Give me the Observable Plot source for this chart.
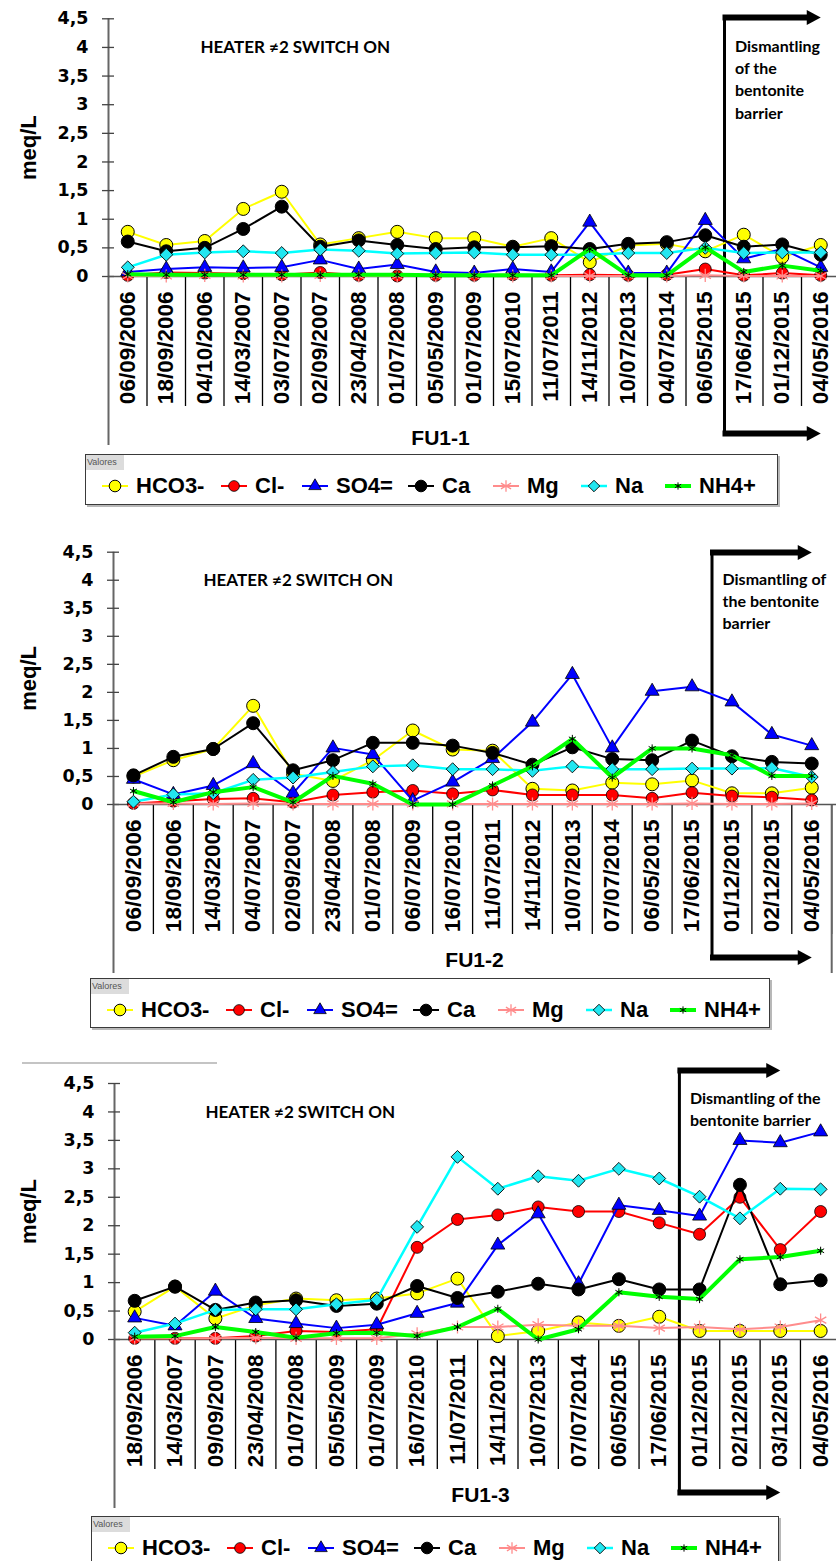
<!DOCTYPE html>
<html><head><meta charset="utf-8">
<script src="https://cdn.jsdelivr.net/npm/d3@7"></script>
<script src="https://cdn.jsdelivr.net/npm/@observablehq/plot@0.6"></script>
<style>
html,body{margin:0;padding:0;background:#fff;}
#root{position:relative;width:836px;height:1561px;overflow:hidden;background:#fff;}
.panel{position:absolute;left:0;}
.legend{position:absolute;box-sizing:border-box;border:1.5px solid #3a3a3a;background:#fff;box-shadow:2px 2px 0 #b8b8b8;}
.legend .tag{position:absolute;left:0;top:0;width:37px;height:15px;background:#dcdcdc;color:#555;font:9px "Liberation Sans Narrow","Liberation Sans",Arial,sans-serif;line-height:15px;padding-left:1px;}
.legend .sw{position:absolute;}
.legend .lbl{position:absolute;font:bold 22px "Liberation Sans",Arial,sans-serif;color:#000;white-space:nowrap;line-height:26px;}
.grey{position:absolute;height:2px;background:#c4c4c4;}
</style></head><body><div id="root"></div>
<script>
// ---------- data ----------
const seriesNames = ["HCO3-","Cl-","SO4=","Ca","Mg","Na","NH4+"];
const yTicks = [0,0.5,1,1.5,2,2.5,3,3.5,4,4.5];
const yLabel = "meq/L";
const heaterLabel = "HEATER \u22602 SWITCH ON";

const fu11Dates = ["06/09/2006","18/09/2006","04/10/2006","14/03/2007","03/07/2007","02/09/2007","23/04/2008","01/07/2008","05/05/2009","01/07/2009","15/07/2010","11/07/2011","14/11/2012","10/07/2013","04/07/2014","06/05/2015","17/06/2015","01/12/2015","04/05/2016"];
const fu11HCO3 = [0.78,0.55,0.62,1.18,1.48,0.56,0.67,0.78,0.67,0.67,0.52,0.67,0.25,0.54,0.57,0.44,0.73,0.34,0.55];
const fu11Cl   = [0.02,0.07,0.06,0.05,0.03,0.07,0.02,0.01,0.02,0.02,0.03,0.02,0.03,0.02,0.03,0.13,0.02,0.06,0.02];
const fu11SO4  = [0.08,0.13,0.16,0.15,0.16,0.29,0.13,0.21,0.08,0.06,0.13,0.08,0.95,0.06,0.06,0.98,0.31,0.48,0.16];
const fu11Ca   = [0.61,0.44,0.50,0.83,1.22,0.52,0.63,0.55,0.48,0.51,0.51,0.53,0.48,0.57,0.60,0.72,0.52,0.56,0.38];
const fu11Mg   = [0.01,0.01,0.02,0.01,0.01,0.02,0.01,0.01,0.01,0.01,0.01,0.01,0.01,0.01,0.01,0.02,0.01,0.01,0.01];
const fu11Na   = [0.16,0.38,0.42,0.44,0.41,0.47,0.45,0.40,0.41,0.42,0.38,0.38,0.38,0.41,0.41,0.50,0.41,0.42,0.42];
const fu11NH4  = [0.04,0.03,0.03,0.03,0.03,0.03,0.03,0.03,0.02,0.02,0.02,0.02,0.48,0.02,0.02,0.51,0.08,0.19,0.10];

const fu12Dates = ["06/09/2006","18/09/2006","14/03/2007","04/07/2007","02/09/2007","23/04/2008","01/07/2008","06/07/2009","16/07/2010","11/07/2011","14/11/2012","10/07/2013","07/07/2014","06/05/2015","17/06/2015","01/12/2015","02/12/2015","04/05/2016"];
const fu12HCO3 = [0.50,0.79,0.99,1.76,0.55,0.42,0.79,1.32,0.98,0.96,0.28,0.25,0.39,0.36,0.43,0.20,0.20,0.30];
const fu12Cl   = [0.02,0.06,0.10,0.11,0.04,0.17,0.22,0.25,0.19,0.26,0.17,0.17,0.17,0.11,0.21,0.15,0.13,0.08];
const fu12SO4  = [0.45,0.18,0.34,0.73,0.20,1.01,0.89,0.07,0.40,0.82,1.47,2.32,1.01,2.02,2.10,1.83,1.25,1.05];
const fu12Ca   = [0.52,0.85,0.99,1.45,0.61,0.79,1.10,1.10,1.05,0.92,0.71,1.02,0.81,0.79,1.14,0.86,0.76,0.73];
const fu12Mg   = [0.02,0.02,0.01,0.02,0.01,0.01,0.01,0.01,0.01,0.01,0.01,0.01,0.01,0.01,0.02,0.01,0.01,0.02];
const fu12Na   = [0.05,0.18,0.20,0.44,0.48,0.58,0.68,0.70,0.63,0.63,0.60,0.68,0.63,0.63,0.64,0.64,0.65,0.49];
const fu12NH4  = [0.24,0.04,0.22,0.31,0.04,0.51,0.37,0.00,0.00,0.34,0.68,1.17,0.48,1.00,1.00,0.88,0.51,0.51];

const fu13Dates = ["18/09/2006","14/03/2007","09/09/2007","23/04/2008","01/07/2008","05/05/2009","01/07/2009","16/07/2010","11/07/2011","14/11/2012","10/07/2013","07/07/2014","06/05/2015","17/06/2015","01/12/2015","02/12/2015","03/12/2015","04/05/2016"];
const fu13HCO3 = [0.49,0.93,0.37,0.60,0.72,0.69,0.72,0.81,1.07,0.06,0.15,0.30,0.24,0.40,0.15,0.15,0.15,0.15];
const fu13Cl   = [0.02,0.02,0.02,0.06,0.15,0.13,0.18,1.62,2.11,2.19,2.33,2.25,2.25,2.05,1.85,2.50,1.58,2.25];
const fu13SO4  = [0.38,0.24,0.85,0.37,0.28,0.20,0.26,0.46,0.64,1.66,2.21,0.98,2.36,2.27,2.17,3.50,3.46,3.65];
const fu13Ca   = [0.68,0.93,0.52,0.65,0.69,0.59,0.63,0.94,0.73,0.84,0.98,0.88,1.06,0.88,0.88,2.72,0.97,1.04];
const fu13Mg   = [0.02,0.02,0.02,0.03,0.02,0.02,0.02,0.10,0.22,0.22,0.26,0.24,0.24,0.20,0.22,0.18,0.22,0.34];
const fu13Na   = [0.12,0.28,0.52,0.53,0.53,0.62,0.70,1.98,3.21,2.65,2.87,2.79,3.00,2.83,2.51,2.13,2.65,2.64];
const fu13NH4  = [0.05,0.06,0.22,0.13,0.03,0.11,0.12,0.06,0.22,0.54,0.00,0.18,0.83,0.75,0.71,1.41,1.45,1.56];

// ---------- styles ----------
const seriesStyles = [
  {line:"#ffff00", w:2,   sym:d3.symbolCircle,   r:6.5, fill:"#ffff00", stroke:"#000", sw:1},
  {line:"#ff0000", w:2,   sym:d3.symbolCircle,   r:6,   fill:"#ff0000", stroke:"#000", sw:0.8},
  {line:"#0000ff", w:2,   sym:d3.symbolTriangle, r:5.2, fill:"#0000ff", stroke:"#000", sw:0.8},
  {line:"#000000", w:2,   sym:d3.symbolCircle,   r:6.5, fill:"#000000", stroke:"#000", sw:1},
  {line:"#ff8c8c", w:2,   sym:d3.symbolAsterisk, r:6.2, fill:"none",    stroke:"#ff8c8c", sw:1.3},
  {line:"#00ffff", w:2.5, sym:d3.symbolDiamond2, r:5.8, fill:"#22e6f0", stroke:"#000", sw:0.9},
  {line:"#00ff00", w:4,   sym:d3.symbolAsterisk, r:3.8, fill:"none",    stroke:"#000", sw:1}
];
const rightTri = {draw(ctx){ ctx.moveTo(-5,-7.5); ctx.lineTo(9,0); ctx.lineTo(-5,7.5); ctx.closePath(); }};
const legendOffsets = [29,148,229,335,420,508,592];

const panels = [
  {dates:fu11Dates, vals:[fu11HCO3,fu11Cl,fu11SO4,fu11Ca,fu11Mg,fu11Na,fu11NH4],
   top:0, height:450, axisX:108, step:38.5, y0:276, y45:18.3, dismantleAfter:"06/05/2015",
   arrowTop:17, arrowBot:433, heater:[200,47], dismY:46, dismLines:["Dismantling","of the","bentonite","barrier"],
   title:"FU1-1", titlePos:[440,438], legend:{x:85,y:454,w:693,h:51}},
  {dates:fu12Dates, vals:[fu12HCO3,fu12Cl,fu12SO4,fu12Ca,fu12Mg,fu12Na,fu12NH4],
   top:525, height:450, axisX:113, step:39.9, y0:804, y45:551.7, dismantleAfter:"17/06/2015",
   arrowTop:552, arrowBot:957, heater:[203,580], dismY:579, dismLines:["Dismantling of","the bentonite","barrier"],
   title:"FU1-2", titlePos:[474,960], legend:{x:90,y:978,w:680,h:50}},
  {dates:fu13Dates, vals:[fu13HCO3,fu13Cl,fu13SO4,fu13Ca,fu13Mg,fu13Na,fu13NH4],
   top:1058, height:452, axisX:114, step:40.35, y0:1339, y45:1083, dismantleAfter:"17/06/2015",
   arrowTop:1070, arrowBot:1492, heater:[205,1112], dismY:1098, dismLines:["Dismantling of the","bentonite barrier"],
   title:"FU1-3", titlePos:[480,1495], legend:{x:91,y:1516,w:688,h:50}}
];

const root = document.getElementById("root");
const ARIAL = "Liberation Sans, Arial, sans-serif";

function drawPanel(cfg) {
  const dates = cfg.dates, n = dates.length, top = cfg.top;
  const y0r = cfg.y0 - top, y45r = cfg.y45 - top;
  const ppu = (y0r - y45r) / 4.5;
  const yv = py => (cfg.y0 - py) / ppu;            // page px -> data
  const xv = px => (px - cfg.axisX) / cfg.step - 0.5;
  const idx = d3.range(n);
  const bnd = dates.indexOf(cfg.dismantleAfter) + 0.5;
  const tip = bnd + 2.5;
  const marks = [];
  // category separators & frame lines
  marks.push(Plot.ruleX(idx.map(i => i + 0.5), {x: d => d, y1: 0, y2: yv(cfg.y0 + 130), stroke: "#000", strokeWidth: 1.3}));
  marks.push(Plot.ruleX([-0.5, n - 0.5], {x: d => d, y1: d => d < 0 ? 4.5 : 0, y2: yv(cfg.y0 + 169), stroke: "#666", strokeWidth: 2}));
  marks.push(Plot.ruleY(yTicks, {y: d => d, x1: xv(cfg.axisX - 6), x2: xv(cfg.axisX + 6), stroke: "#444", strokeWidth: 1.3}));
  marks.push(Plot.ruleY([0], {x1: -0.5, x2: n - 0.2, stroke: "#555", strokeWidth: 1.6}));
  // y tick labels
  marks.push(Plot.text(yTicks, {x: -0.5, y: d => d, text: d => String(d).replace(".", ","), textAnchor: "end", dx: -20,
    fontSize: 17.5, fontWeight: "bold", fontFamily: "DejaVu Sans, sans-serif"}));
  marks.push(Plot.text([yLabel], {x: xv(28), y: 2.25, text: d => d, rotate: -90, fontSize: 22, fontWeight: "bold", fontFamily: ARIAL}));
  // x labels
  marks.push(Plot.text(idx, {x: d => d, y: 0, text: d => dates[d], rotate: -90, textAnchor: "end", lineAnchor: "middle", dy: 15,
    fontSize: 22.5, fontWeight: "bold", fontFamily: ARIAL}));
  // title
  marks.push(Plot.text([cfg.title], {x: xv(cfg.titlePos[0]), y: yv(cfg.titlePos[1]), text: d => d, fontSize: 21, fontWeight: "bold", fontFamily: ARIAL}));
  // heater annotation
  marks.push(Plot.text([heaterLabel], {x: xv(cfg.heater[0]), y: yv(cfg.heater[1]), text: d => d, textAnchor: "start",
    fontSize: 17, fontWeight: "bold", fontFamily: "Lato, sans-serif"}));
  // dismantling annotation
  marks.push(Plot.ruleX([bnd], {x: d => d, y1: yv(cfg.arrowTop), y2: yv(cfg.arrowBot), stroke: "#000", strokeWidth: 3}));
  marks.push(Plot.ruleY([yv(cfg.arrowTop), yv(cfg.arrowBot)], {y: d => d, x1: bnd - 1.5 / cfg.step, x2: tip - 12 / cfg.step, stroke: "#000", strokeWidth: 6}));
  marks.push(Plot.dot([yv(cfg.arrowTop), yv(cfg.arrowBot)], {x: tip - 9 / cfg.step, y: d => d, symbol: rightTri, r: 5, fill: "#000", stroke: "none"}));
  marks.push(Plot.text(cfg.dismLines, {x: bnd + 10.5 / cfg.step, y: (d, i) => yv(cfg.dismY + i * 22.3), text: d => d, textAnchor: "start",
    fontSize: 16, fontWeight: "bold", fontFamily: "Lato, sans-serif"}));
  // series
  seriesNames.forEach((s, k) => {
    const st = seriesStyles[k];
    const data = cfg.vals[k].map((v, i) => ({i, v}));
    marks.push(Plot.line(data, {x: "i", y: "v", stroke: st.line, strokeWidth: st.w}));
    marks.push(Plot.dot(data, {x: "i", y: "v", symbol: st.sym, r: st.r, fill: st.fill, stroke: st.stroke, strokeWidth: st.sw}));
  });
  const svg = Plot.plot({
    width: 836, height: cfg.height, marginLeft: 0, marginRight: 0, marginTop: 0, marginBottom: 0,
    x: {type: "linear", domain: [-0.5, n - 0.5], range: [cfg.axisX, cfg.axisX + n * cfg.step], axis: null},
    y: {type: "linear", domain: [0, 4.5], range: [y0r, y45r], axis: null},
    marks
  });
  svg.classList.add("panel");
  svg.style.top = top + "px";
  root.appendChild(svg);
}

function drawLegend(cfg) {
  const L = cfg.legend;
  const box = document.createElement("div");
  box.className = "legend";
  Object.assign(box.style, {left: L.x + "px", top: L.y + "px", width: L.w + "px", height: L.h + "px"});
  const tag = document.createElement("div"); tag.className = "tag"; tag.textContent = "Valores"; box.appendChild(tag);
  const cy = 32;
  seriesNames.forEach((s, k) => {
    const st = seriesStyles[k];
    const cx = legendOffsets[k];
    const sw = d3.create("svg").attr("class", "sw").attr("width", 28).attr("height", 20)
      .style("left", (cx - 14) + "px").style("top", (cy - 10 - 1.5) + "px");
    sw.append("line").attr("x1", 1).attr("x2", 27).attr("y1", 10).attr("y2", 10).attr("stroke", st.line).attr("stroke-width", st.w);
    sw.append("path").attr("transform", "translate(14,10)")
      .attr("d", d3.symbol(st.sym, Math.PI * st.r * st.r * 0.8)())
      .attr("fill", st.fill).attr("stroke", st.stroke).attr("stroke-width", st.sw);
    box.appendChild(sw.node());
    const lbl = document.createElement("div"); lbl.className = "lbl"; lbl.textContent = s;
    lbl.style.left = (cx + 21) + "px"; lbl.style.top = (cy - 13 - 1.5) + "px";
    box.appendChild(lbl);
  });
  root.appendChild(box);
}

panels.forEach(p => { drawPanel(p); drawLegend(p); });
const g = document.createElement("div"); g.className = "grey";
Object.assign(g.style, {left: "22px", top: "1062px", width: "195px"});
root.appendChild(g);
</script></body></html>
